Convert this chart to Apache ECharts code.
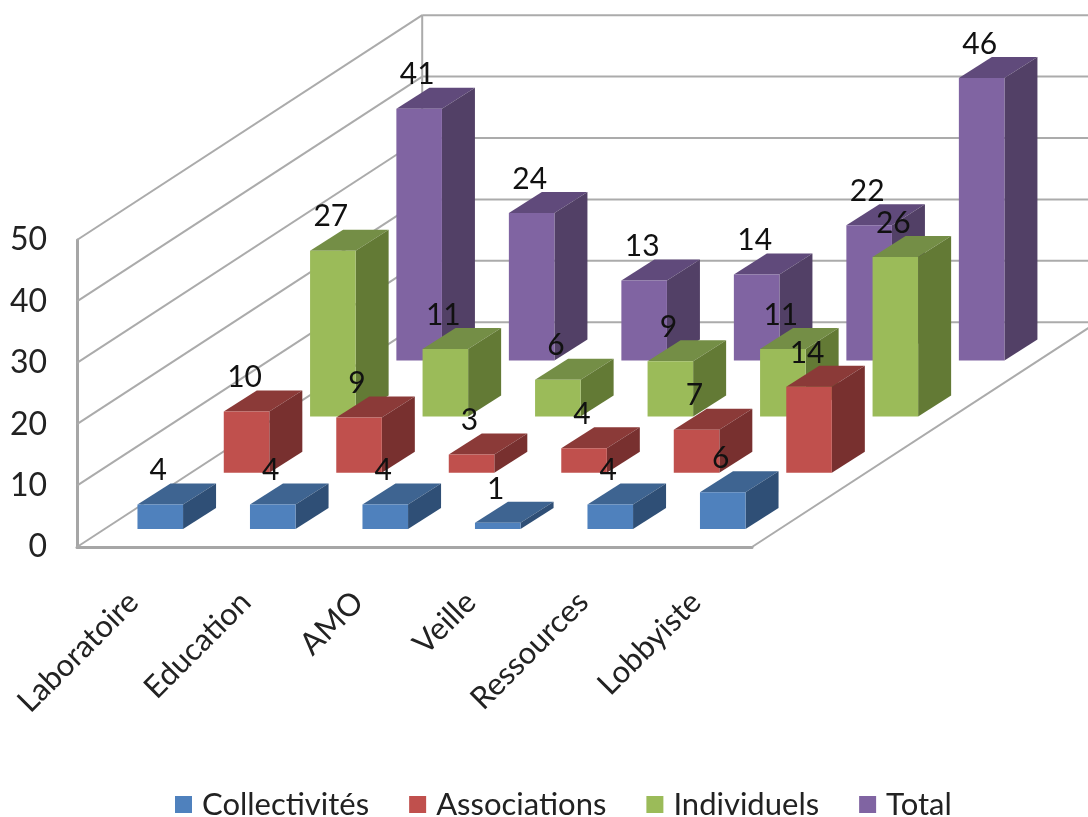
<!DOCTYPE html>
<html>
<head>
<meta charset="utf-8">
<style>html,body{margin:0;padding:0;background:#fff}#c{width:1088px;height:817px}</style>
<script src="https://cdn.jsdelivr.net/npm/echarts@6/dist/echarts.min.js"></script>
</head>
<body>
<div id="c"></div>
<script>
const categories = ['Laboratoire','Education','AMO','Veille','Ressources','Lobbyiste'];
const seriesNames = ['Collectivités','Associations','Individuels','Total'];
const collectivites = [4,4,4,1,4,6];
const associations = [10,9,3,4,7,14];
const individuels = [27,11,6,9,11,26];
const total = [41,24,13,14,22,46];
const yTicks = [0,10,20,30,40,50];

const FONT = 'Lato, "Open Sans", sans-serif';
const palette = [
  {front:'#4F81BD', top:'#3E6491', side:'#2F4F76'},
  {front:'#C0504D', top:'#8B3A38', side:'#78302F'},
  {front:'#9BBB59', top:'#748E46', side:'#637A35'},
  {front:'#8064A2', top:'#604A7B', side:'#524066'}
];
// projection of the floor's depth direction, per row
const ROW_DX = 86.3, ROW_DY = -56.2;
const WALL_DX = ROW_DX * 4, WALL_DY = ROW_DY * 4;
const BAR_DX = 33, BAR_DY = -21;
const INSET_X = 27, INSET_Y = -18;

function barItem(row) {
  const c = palette[row];
  return function (params, api) {
    const base = api.coord([api.value(0), 0]);
    const head = api.coord([api.value(0), api.value(1)]);
    const w = api.size([1, 0])[0] * 0.405;
    const x0 = base[0] + INSET_X + ROW_DX * row - w / 2;
    const x1 = x0 + w;
    const y0 = base[1] + INSET_Y + ROW_DY * row;
    const y1 = head[1] + INSET_Y + ROW_DY * row;
    const poly = (pts, fill) => ({type:'polygon', shape:{points:pts}, style:{fill:fill}});
    return {type:'group', children:[
      poly([[x0,y1],[x1,y1],[x1+BAR_DX,y1+BAR_DY],[x0+BAR_DX,y1+BAR_DY]], c.top),
      poly([[x1,y0],[x1,y1],[x1+BAR_DX,y1+BAR_DY],[x1+BAR_DX,y0+BAR_DY]], c.side),
      poly([[x0,y0],[x1,y0],[x1,y1],[x0,y1]], c.front),
      {type:'text', z2:10, style:{text:String(api.value(1)), x:(x0+x1)/2-2, y:y1-34,
        textAlign:'center', textVerticalAlign:'middle', fill:'#111', font:'30px '+FONT}}
    ]};
  };
}

function wallItem(params, api) {
  const cs = params.coordSys;
  const y = api.coord([0, api.value(0)])[1];
  const xl = cs.x, xr = cs.x + cs.width;
  const line = (a, b, w) => ({type:'line', shape:{x1:a[0],y1:a[1],x2:b[0],y2:b[1]}, style:{stroke:'#ABABAB', lineWidth:w||2}});
  const back = [xl + WALL_DX, y + WALL_DY];
  const kids = [
    line([xl, y], back),
    line(back, [xr + WALL_DX, y + WALL_DY])
  ];
  if (api.value(0) === 0) {
    kids.push(line([xr, y], [xr + WALL_DX, y + WALL_DY]));
    kids.push(line(back, [back[0], cs.y + WALL_DY]));
  }
  return {type:'group', children:kids};
}

const rows = [collectivites, associations, individuels, total];
const chart = echarts.init(document.getElementById('c'));
chart.setOption({
  animation:false,
  backgroundColor:'#fff',
  grid:{left:77, top:240, width:675, height:307, containLabel:false},
  xAxis:{type:'category', data:categories,
    axisTick:{show:false},
    axisLine:{show:true, lineStyle:{color:'#A6A6A6', width:3}},
    axisLabel:{rotate:45, interval:0, margin:50, color:'#222', fontFamily:FONT, fontSize:31}},
  yAxis:{type:'value', min:0, max:50, interval:10,
    splitLine:{show:false},
    axisTick:{show:false},
    axisLine:{show:true, lineStyle:{color:'#A6A6A6', width:3}},
    axisLabel:{margin:30, color:'#222', fontFamily:FONT, fontSize:32, padding:[4,0,0,0]}},
  legend:{left:170, top:784, itemWidth:17, itemHeight:17, itemGap:40, icon:'rect',
    data:seriesNames,
    textStyle:{color:'#222', fontFamily:FONT, fontSize:31, padding:[0,0,0,5]}},
  series:[
    {type:'custom', name:'walls', z:1, silent:true, clip:false, renderItem:wallItem,
      encode:{y:0}, data:yTicks.map(v=>[v])},
    ...rows.map((vals,i)=>({
      type:'custom', name:seriesNames[i], z:6-i, clip:false,
      itemStyle:{color:palette[i].front},
      renderItem:barItem(i),
      encode:{x:0,y:1},
      data:vals.map((v,k)=>[k,v])
    }))
  ]
});
</script>
</body>
</html>
